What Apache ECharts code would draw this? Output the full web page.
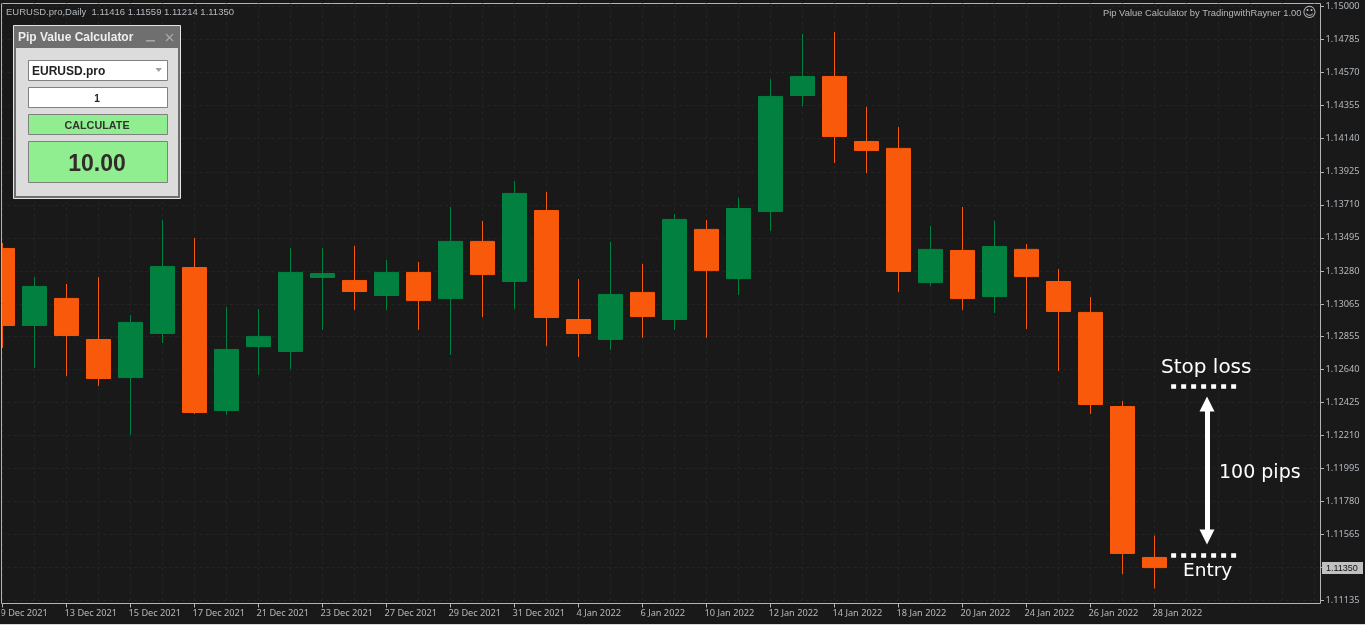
<!DOCTYPE html>
<html>
<head>
<meta charset="utf-8">
<title>Pip Value Calculator</title>
<style>
html,body{margin:0;padding:0;background:#191919;overflow:hidden;}
#zhutu{width:1365px;height:625px;}
</style>
<script src="https://cdn.jsdelivr.net/npm/echarts@6/dist/echarts.min.js"></script>
</head>
<body>
<div id="zhutu"></div>
<script>
// candle values, one per day
var opens  = [1.13426,1.12925,1.13101,1.12834,1.12586,1.12873,1.13302,1.12372,1.12788,1.12756,1.13237,1.13218,1.13120,
              1.13270,1.13100,1.13472,1.13211,1.13673,1.12964,1.12834,1.13140,1.12964,1.13550,1.13230,1.13666,1.14421,
              1.14545,1.14122,1.14077,1.13204,1.13413,1.13113,1.13420,1.13211,1.13010,1.12398,1.11416];
var closes = [1.12925,1.13179,1.12860,1.12580,1.12945,1.13309,1.12359,1.12769,1.12854,1.13270,1.13263,1.13146,1.13270,
              1.13087,1.13472,1.13256,1.13784,1.12977,1.12873,1.13127,1.12983,1.13615,1.13282,1.13686,1.14415,1.14545,
              1.14154,1.14063,1.13276,1.13420,1.13100,1.13439,1.13243,1.13016,1.12411,1.11442,1.11350];
var lows   = [1.12779,1.12648,1.12596,1.12531,1.12213,1.12811,1.12349,1.12343,1.12603,1.12642,1.12896,1.13026,1.13026,
              1.12896,1.12733,1.12980,1.13032,1.12792,1.12720,1.12766,1.12844,1.12896,1.12844,1.13123,1.13540,1.14353,
              1.13982,1.13917,1.13143,1.13182,1.13026,1.13006,1.12902,1.12629,1.12349,1.11308,1.11214];
var highs  = [1.13462,1.13240,1.13195,1.13240,1.12993,1.13611,1.13494,1.13045,1.13032,1.13429,1.13429,1.13442,1.13351,
              1.13338,1.13696,1.13605,1.13865,1.13793,1.13227,1.13468,1.13325,1.13650,1.13611,1.13754,1.14528,1.14821,
              1.14834,1.14346,1.14216,1.13572,1.13696,1.13605,1.13455,1.13292,1.13110,1.12434,1.11559];

// every second candle has a date on the time axis
var dateLabels = ['9 Dec 2021','13 Dec 2021','15 Dec 2021','17 Dec 2021','21 Dec 2021','23 Dec 2021','27 Dec 2021',
                  '29 Dec 2021','31 Dec 2021','4 Jan 2022','6 Jan 2022','10 Jan 2022','12 Jan 2022','14 Jan 2022',
                  '18 Jan 2022','20 Jan 2022','24 Jan 2022','26 Jan 2022','28 Jan 2022'];
var priceTicks = [1.11135,1.11350,1.11565,1.11780,1.11995,1.12210,1.12425,1.12640,1.12855,1.13065,
                  1.13280,1.13495,1.13710,1.13925,1.14140,1.14355,1.14570,1.14785,1.15000];

var stopLoss = 1.12531;
var entry = 1.11432;
var arrowTop = 1.12414;
var arrowBottom = 1.11549;
var lastClose = '1.11350';

var upColor = '#02803f';
var downColor = '#f9590b';
var labelColor = '#b4b9be';
var frameColor = '#b4b4b4';
var gridColor = '#242424';

var candleData = [];
for (var i = 0; i < opens.length; i++) {
  candleData.push([i, opens[i], closes[i], lows[i], highs[i]]);
}
var gridTicks = [];
for (var k = 0; k <= 41; k++) { gridTicks.push(k); }
var dateTicks = [];
for (var d = 0; d < dateLabels.length; d++) { dateTicks.push(d * 2); }

function panelText(x, y, str, size, color, bold, align) {
  return {
    type: 'text', z: 20, silent: true,
    style: {
      x: x, y: y, text: str, fill: color, align: align || 'left', verticalAlign: 'middle',
      font: (bold ? 'bold ' : '') + size + 'px "Liberation Sans", sans-serif'
    }
  };
}
function panelRect(x, y, w, h, fill, stroke) {
  return {
    type: 'rect', z: 20, silent: true,
    shape: { x: x, y: y, width: w, height: h },
    style: { fill: fill, stroke: stroke || null, lineWidth: 1 }
  };
}
function whiteText(x, y, str, size) {
  return {
    type: 'text', z: 20, silent: true,
    style: {
      x: x, y: y, text: str, fill: '#ffffff', align: 'left', verticalAlign: 'middle',
      font: size + 'px "DejaVu Sans", sans-serif'
    }
  };
}

var myChart = echarts.init(document.getElementById('zhutu'));
var option = {
  animation: false,
  backgroundColor: '#191919',
  grid: [
    {
      show: true, outerBoundsMode: 'none',
      left: 1.5, top: 3.5, width: 1319, height: 600,
      borderColor: frameColor, borderWidth: 1,
      backgroundColor: '#191919'
    },
    // same size, 2px to the left, only carries the dates
    { show: false, outerBoundsMode: 'none', left: -0.5, top: 3.5, width: 1319, height: 600 },
    // thin strip right of the frame, its split lines are the price ticks
    { show: false, outerBoundsMode: 'none', left: 1320.5, top: 3.5, width: 3.5, height: 600 }
  ],
  xAxis: [
    {
      // only the dashed line on every candle
      type: 'value', min: -0.03125, max: 41.1875, position: 'bottom',
      axisLine: { show: false },
      axisLabel: { show: false },
      axisTick: { show: false, customValues: gridTicks },
      splitLine: { show: true, lineStyle: { color: gridColor, type: [3, 3] } }
    },
    {
      // tick marks
      type: 'value', min: -0.03125, max: 41.1875, position: 'bottom',
      axisLine: { show: false },
      splitLine: { show: false },
      axisLabel: { show: false },
      axisTick: { show: true, length: 4, customValues: dateTicks, lineStyle: { color: frameColor } }
    },
    {
      // dates
      gridIndex: 1,
      type: 'value', min: -0.03125, max: 41.1875, position: 'bottom',
      axisLine: { show: false },
      splitLine: { show: false },
      axisTick: { show: false, customValues: dateTicks },
      axisLabel: {
        show: true, customValues: dateTicks, margin: 5, align: 'left',
        color: labelColor, fontSize: 9.2, fontFamily: '"Noto Sans", sans-serif',
        formatter: function (v) { return dateLabels[v / 2]; }
      }
    },
    { gridIndex: 2, type: 'value', min: 0, max: 1, show: false }
  ],
  yAxis: [
    {
      type: 'value', min: 1.111165, max: 1.150195, position: 'right',
      axisLine: { show: false },
      axisTick: { show: false, customValues: priceTicks },
      axisLabel: {
        show: true, customValues: priceTicks, margin: 5, showMinLabel: true, showMaxLabel: true,
        padding: [2, 0, 0, 0],
        color: labelColor, fontSize: 9.2, fontFamily: '"Noto Sans", sans-serif',
        formatter: function (v) { return v.toFixed(5); }
      },
      splitLine: { show: true, lineStyle: { color: gridColor, type: [3, 3] } }
    },
    { gridIndex: 1, type: 'value', min: 1.111165, max: 1.150195, show: false },
    {
      gridIndex: 2, type: 'value', min: 1.111165, max: 1.150195,
      axisLine: { show: false },
      axisLabel: { show: false },
      axisTick: { show: false, customValues: priceTicks },
      splitLine: { show: true, lineStyle: { color: frameColor, type: 'solid' } }
    }
  ],
  series: [
    {
      name: 'EURUSD.pro',
      type: 'candlestick',
      xAxisIndex: 0,
      yAxisIndex: 0,
      barWidth: 24,
      clip: true,
      encode: { x: 0, y: [1, 2, 3, 4] },
      data: candleData,
      itemStyle: {
        color: upColor, color0: downColor,
        borderColor: upColor, borderColor0: downColor,
        borderWidth: 1, borderJoin: 'miter'
      },
      markLine: {
        silent: true, animation: false, symbol: 'none', label: { show: false },
        data: [
          [{ coord: [36.52, stopLoss], lineStyle: { color: '#fff', width: 4.5, type: [5, 5] } }, { coord: [38.58, stopLoss] }],
          [{ coord: [36.52, entry], lineStyle: { color: '#fff', width: 4.5, type: [5, 5] } }, { coord: [38.58, entry] }],
          [{ coord: [37.64, arrowTop], symbol: 'triangle', symbolSize: 15, lineStyle: { color: '#fff', width: 5, type: 'solid' } },
           { coord: [37.64, arrowBottom], symbol: 'triangle', symbolSize: 15 }]
        ]
      }
    }
  ],
  graphic: [
    // first candle is cut by the left frame
    panelRect(0, 0, 1.5, 625, '#191919'),
    { type: 'line', z: 20, silent: true, shape: { x1: 1.5, y1: 3.5, x2: 1.5, y2: 603.5 }, style: { stroke: frameColor, lineWidth: 1 } },
    panelRect(0, 624, 1365, 1, '#d8d8d8'),

    panelText(6, 12, 'EURUSD.pro,Daily  1.11416 1.11559 1.11214 1.11350', 9.5, labelColor, false),
    panelText(1301.5, 13, 'Pip Value Calculator by TradingwithRayner 1.00', 9.4, labelColor, false, 'right'),
    {
      type: 'text', z: 20, silent: true,
      style: { x: 1309.5, y: 13, text: '\u263A', fill: labelColor, align: 'center', verticalAlign: 'middle', font: '14px "DejaVu Sans"' }
    },

    whiteText(1161, 367.5, 'Stop loss', 20),
    whiteText(1219, 473, '100 pips', 19),
    whiteText(1183, 571.5, 'Entry', 18.5),

    // price flag on the right
    panelRect(1322, 562, 41, 12, '#c0c0c0'),
    panelText(1326, 568.5, lastClose, 9, '#111111', false),

    // calculator panel
    panelRect(13.5, 25.5, 167, 173, '#6f6f6f', '#e4e4e4'),
    panelRect(16, 48, 162, 148, '#dcdcdc'),
    panelText(18, 38, 'Pip Value Calculator', 12, '#eeeeee', true),
    panelRect(146, 40, 9, 1.5, '#a8a8a8'),
    { type: 'line', z: 20, silent: true, shape: { x1: 166, y1: 34, x2: 173, y2: 41 }, style: { stroke: '#a8a8a8', lineWidth: 1.3 } },
    { type: 'line', z: 20, silent: true, shape: { x1: 173, y1: 34, x2: 166, y2: 41 }, style: { stroke: '#a8a8a8', lineWidth: 1.3 } },
    panelRect(28.5, 60.5, 139, 20, '#ffffff', '#808080'),
    panelText(32, 72, 'EURUSD.pro', 12, '#222222', true),
    { type: 'polygon', z: 20, silent: true, shape: { points: [[155.5, 68], [162, 68], [158.7, 72]] }, style: { fill: '#a0a0a0' } },
    panelRect(28.5, 87.5, 139, 20, '#ffffff', '#808080'),
    panelText(97, 99, '1', 10, '#222222', true, 'center'),
    panelRect(28.5, 114.5, 139, 20, '#90ee90', '#808080'),
    panelText(97, 126, 'CALCULATE', 10.8, '#333333', true, 'center'),
    panelRect(28.5, 141.5, 139, 41, '#90ee90', '#808080'),
    panelText(97, 164.5, '10.00', 23, '#332a2a', true, 'center')
  ]
};
myChart.setOption(option);
</script>
</body>
</html>
